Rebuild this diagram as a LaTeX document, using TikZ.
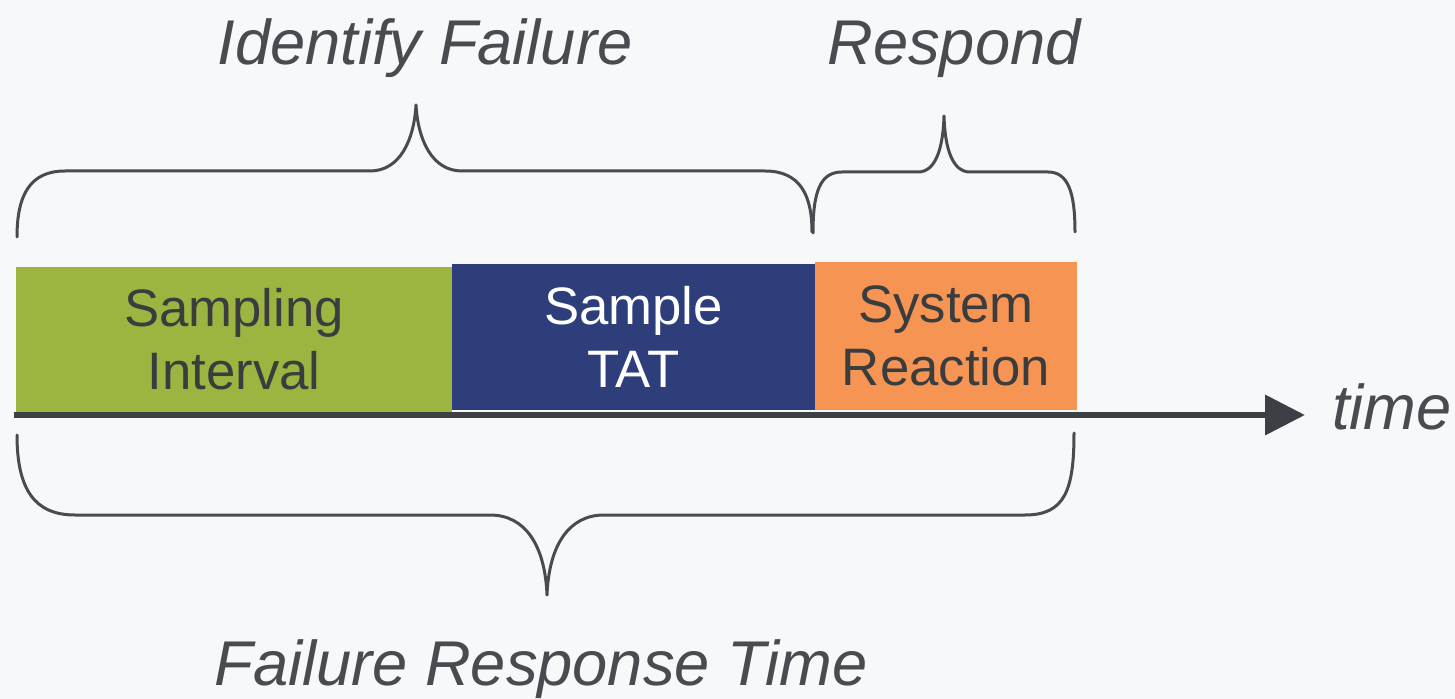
\documentclass[tikz,border=0pt]{standalone}
\usepackage{fontspec}
\setmainfont{Liberation Sans}
\usetikzlibrary{arrows.meta}
\definecolor{bggray}{RGB}{246,248,250}
\definecolor{intgreen}{RGB}{156,181,64}
\definecolor{tatblue}{RGB}{46,62,122}
\definecolor{reactorange}{RGB}{246,148,84}
\definecolor{inkgray}{RGB}{72,76,80}
\definecolor{axisgray}{RGB}{60,63,68}
\definecolor{textgray}{RGB}{58,60,62}
\begin{document}
\begin{tikzpicture}[x=0.02cm, y=-0.02cm,
    phase/.style={inner sep=0pt, align=center, text=textgray, font=\fontsize{30}{36}\selectfont},
    brace/.style={draw=inkgray, line width=0.06cm, line cap=round, line join=round},
    title/.style={inner sep=0pt, anchor=base, text=inkgray, font=\fontsize{36}{43}\selectfont\itshape},
    axis/.style={draw=axisgray, line width=0.14cm, -{Triangle[length=0.8cm, width=0.78cm]}}]
            \fill [bggray] (0,0) rectangle (1455,699);
            \useasboundingbox (0,0) rectangle (1455,699);
            % phases
            \node [phase, fill=intgreen, minimum width=8.72cm, minimum height=2.9cm] (interval) at (234,339.5) {Sampling\\Interval};
            \node [phase, fill=tatblue, text=white, minimum width=7.26cm, minimum height=2.92cm] (tat) at (633.5,337) {Sample\\TAT};
            \node [phase, fill=reactorange, minimum width=5.24cm, minimum height=2.96cm] (reaction) at (946,336) {System\\Reaction};
            % time axis
            \coordinate (t0) at (14,415);
            \coordinate (t1) at (1305,415);
            \draw [axis] (t0) -- (t1);
            \node [title, anchor=base west] (timelbl) at (1332,430) {time};
            % braces
            \draw [brace] (17,237) .. controls (17,195) and (30,171) .. (65,171) -- (370,171)
                .. controls (400,171) and (414,140) .. (416,105)
                .. controls (418,140) and (432,171) .. (462,171) -- (765,171)
                .. controls (800,171) and (812,195) .. (812,232);
            \node [title] (identify) at (425,65) {Identify Failure};
            \draw [brace] (813,233) .. controls (813,192) and (820,172) .. (842,172) -- (918,172)
                .. controls (935,172) and (943,150) .. (944,116)
                .. controls (945,150) and (953,172) .. (970,172) -- (1048,172)
                .. controls (1068,172) and (1075,192) .. (1075,232);
            \node [title] (respond) at (954,65) {Respond};
            \draw [brace] (17,435) .. controls (17,490) and (35,515) .. (75,515) -- (490,515)
                .. controls (525,515) and (545,545) .. (547,595)
                .. controls (549,545) and (569,515) .. (604,515) -- (1025,515)
                .. controls (1065,515) and (1074,490) .. (1074,433);
            \node [title] (frt) at (541,685) {Failure Response Time};
\end{tikzpicture}
\end{document}
